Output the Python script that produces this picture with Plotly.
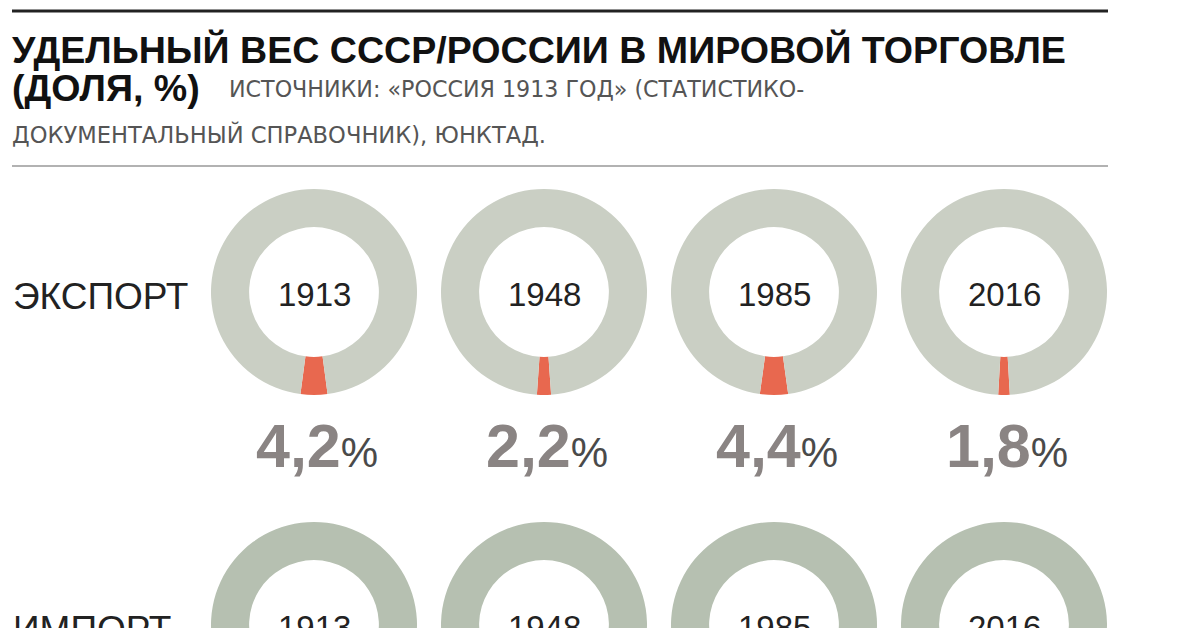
import plotly.graph_objects as go

# ---- data ----
years = ["1913", "1948", "1985", "2016"]
export_share = [4.2, 2.2, 4.4, 1.8]
export_labels = ["4,2", "2,2", "4,4", "1,8"]
import_share = [3.5, 2.0, 4.0, 1.2]
row_names = ["ЭКСПОРТ", "ИМПОРТ"]

title_1 = "УДЕЛЬНЫЙ ВЕС СССР/РОССИИ В МИРОВОЙ ТОРГОВЛЕ"
title_2 = "(ДОЛЯ, %)"
source_1 = "ИСТОЧНИКИ: «РОССИЯ 1913 ГОД» (СТАТИСТИКО-"
source_2 = "ДОКУМЕНТАЛЬНЫЙ СПРАВОЧНИК), ЮНКТАД."

# ---- layout constants (pixels) ----
W, H = 1200, 760
FONT = "Liberation Sans, Arial, sans-serif"
FONT_SRC = "DejaVu Sans, sans-serif"
RED = "#e8684f"
RING_EXP = "#cacfc4"
RING_IMP = "#b6c0b1"
centers_x = [314, 544, 774, 1004]
R = 103
row_cy = [292, 625]


def px(x):
    return x / W


def py(y):
    return 1 - y / H


fig = go.Figure()

rows = [(export_share, RING_EXP), (import_share, RING_IMP)]
for (shares, ring), cy in zip(rows, row_cy):
    for cx, v in zip(centers_x, shares):
        fig.add_trace(go.Pie(
            values=[v, 100 - v],
            marker=dict(colors=[RED, ring], line=dict(width=0)),
            sort=False,
            direction="clockwise",
            rotation=180 - v * 1.8,
            hole=0.63,
            textinfo="none",
            hoverinfo="skip",
            showlegend=False,
            domain=dict(x=[px(cx - R), px(cx + R)], y=[py(cy + R), py(cy - R)]),
        ))

ann = []
# title
ann.append(dict(text="<b>" + title_1 + "</b>", x=px(10), y=py(50), xanchor="left", yanchor="middle",
                font=dict(size=37.6, color="#111", family=FONT), showarrow=False))
ann.append(dict(text="<b>" + title_2 + "</b>", x=px(10), y=py(88), xanchor="left", yanchor="middle",
                font=dict(size=37.6, color="#111", family=FONT), showarrow=False))
ann.append(dict(text=source_1, x=px(227), y=py(89), xanchor="left", yanchor="middle",
                font=dict(size=22.2, color="#555", family=FONT_SRC), showarrow=False))
ann.append(dict(text=source_2, x=px(10), y=py(135), xanchor="left", yanchor="middle",
                font=dict(size=22.6, color="#555", family=FONT_SRC), showarrow=False))

# row names
for name, cy in zip(row_names, row_cy):
    ann.append(dict(text=name, x=px(11), y=py(cy + 4), xanchor="left", yanchor="middle",
                    font=dict(size=37, color="#222", family=FONT), showarrow=False))

# years in holes
for cy in row_cy:
    for cx, yr in zip(centers_x, years):
        ann.append(dict(text=yr, x=px(cx), y=py(cy + 2), xanchor="center", yanchor="middle",
                        font=dict(size=33, color="#222", family=FONT), showarrow=False))

# export percent labels
for cx, lab in zip(centers_x, export_labels):
    ann.append(dict(text="<b>" + lab + "</b><span style='font-size:42px;color:#4a4a4a'>%</span>",
                    x=px(cx + 3), y=py(446), xanchor="center", yanchor="middle",
                    font=dict(size=61, color="#8a8483", family=FONT), showarrow=False))

shapes = [
    dict(type="line", xref="paper", yref="paper", x0=px(12), x1=px(1108), y0=py(11), y1=py(11),
         line=dict(color="#222", width=3)),
    dict(type="line", xref="paper", yref="paper", x0=px(12), x1=px(1108), y0=py(166), y1=py(166),
         line=dict(color="#999", width=1.5)),
]

fig.update_layout(
    width=W, height=H,
    margin=dict(l=0, r=0, t=0, b=0),
    paper_bgcolor="white", plot_bgcolor="white",
    annotations=ann, shapes=shapes,
)

fig.write_html("out.html", config={"displayModeBar": False},
               post_script="document.body.style.margin='0';document.body.style.overflow='hidden';")
